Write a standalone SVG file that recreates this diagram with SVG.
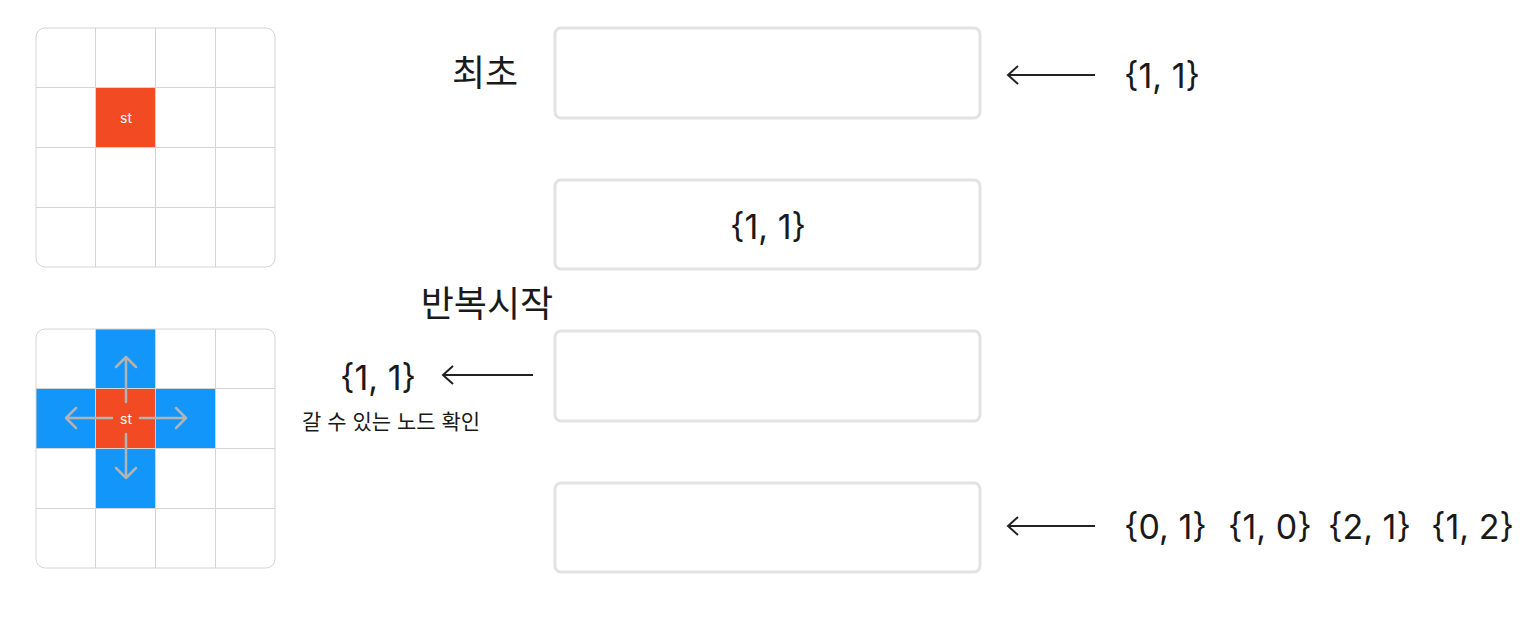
<svg xmlns="http://www.w3.org/2000/svg" width="1535" height="617" viewBox="0 0 1535 617">
<style>
.t{font-family:Inter,"Noto Sans CJK KR",sans-serif;fill:#1a1a1a}
.big{font-size:34px}
.ko{font-size:36px}
.small{font-size:21px}
.st{font-family:Inter,"Noto Sans CJK KR",sans-serif;font-size:14px;fill:#fff;text-anchor:middle}
.gl{stroke:#d4d4d4;stroke-width:1;fill:none}
.box{fill:#fff;stroke:#e2e2e2;stroke-width:3}
.conn{stroke:#222;stroke-width:2;fill:none}
.ga{stroke:#b3b3b3;stroke-width:2.5;fill:none;stroke-linecap:round;stroke-linejoin:round}
</style>
<rect width="1535" height="617" fill="#fff"/>
<g id="grid1">
<rect x="96" y="88" width="60" height="60" fill="#f24a22"/>
<rect x="36" y="28" width="239" height="239" rx="9" class="gl"/>
<path class="gl" d="M95.5 28V267M155.5 28V267M215.5 28V267M36 87.5H275M36 147.5H275M36 207.5H275"/>
<text x="126" y="123" class="st">st</text>
</g>
<g id="grid2">
<rect x="96" y="329" width="60" height="60" fill="#1296fa"/>
<rect x="36" y="389" width="60" height="60" fill="#1296fa"/>
<rect x="156" y="389" width="60" height="60" fill="#1296fa"/>
<rect x="96" y="449" width="60" height="60" fill="#1296fa"/>
<rect x="96" y="389" width="60" height="60" fill="#f24a22"/>
<rect x="36" y="329" width="239" height="239" rx="9" class="gl"/>
<path class="gl" d="M95.5 329V568M155.5 329V568M215.5 329V568M36 388.5H275M36 448.5H275M36 508.5H275"/>
<path class="ga" d="M126 402V357M116 367L126 357L136 367M112 418H66M76 408L66 418L76 428M140 418H186M176 408L186 418L176 428M126 434V478M116 468L126 478L136 468"/>
<text x="126" y="424" class="st">st</text>
</g>
<g id="box1"><rect x="555" y="28" width="425" height="90" rx="6" class="box"/></g>
<g id="box2"><rect x="555" y="180" width="425" height="89" rx="6" class="box"/>
<text x="768" y="239" class="t big" text-anchor="middle">{1, 1}</text></g>
<g id="box3"><rect x="555" y="331" width="425" height="90" rx="6" class="box"/></g>
<g id="box4"><rect x="555" y="483" width="425" height="89" rx="6" class="box"/></g>
<g id="labels">
<text x="485" y="86" class="t ko" text-anchor="middle">최초</text>
<text x="487" y="317" class="t ko" text-anchor="middle">반복시작</text>
<text x="378" y="390" class="t big" text-anchor="middle">{1, 1}</text>
<text x="302" y="429" class="t small">갈 수 있는 노드 확인</text>
<text x="1124" y="88" class="t big">{1, 1}</text>
<text x="1124" y="539" class="t big">{0, 1}</text>
<text x="1228" y="539" class="t big">{1, 0}</text>
<text x="1328" y="539" class="t big">{2, 1}</text>
<text x="1431" y="539" class="t big">{1, 2}</text>
</g>
<g id="connectors">
<path class="conn" d="M1095 75H1008M1018 66L1008 75L1018 84"/>
<path class="conn" d="M533 375H443M453 366L443 375L453 384"/>
<path class="conn" d="M1095 526H1008M1018 517L1008 526L1018 535"/>
</g>
</svg>
